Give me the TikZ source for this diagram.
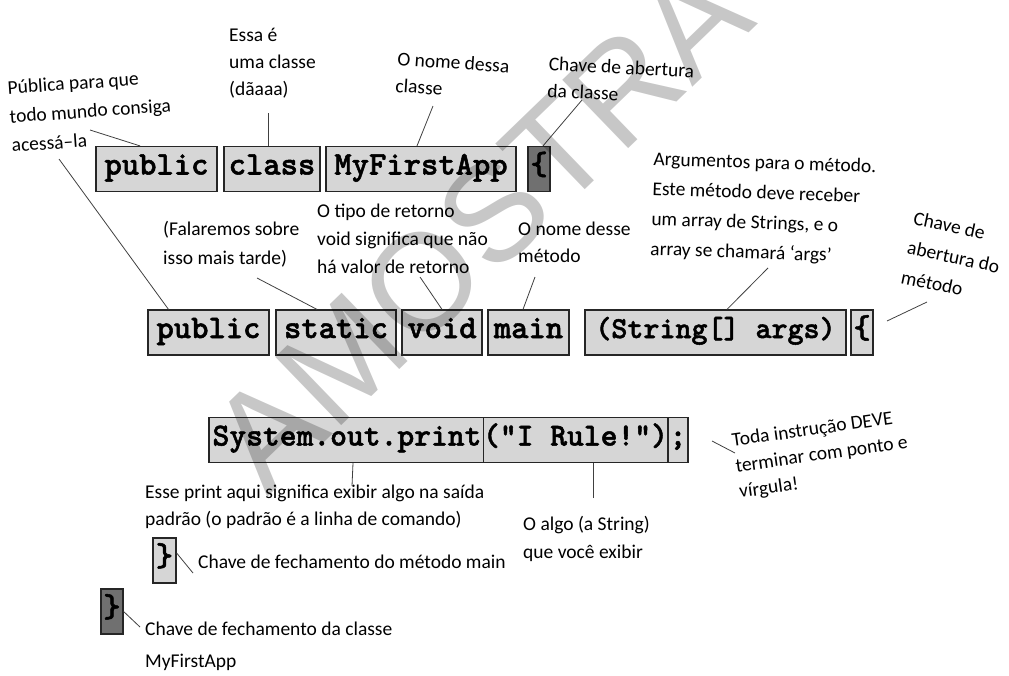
\documentclass[tikz,border=0pt]{standalone}
\usepackage{fontspec}
\setmainfont{Carlito}
\newfontfamily\wmfam{Liberation Sans}
\newfontfamily\codefam{lmmonolt10-bold.otf}[FakeBold=1.6]
\definecolor{boxgray}{RGB}{214,214,214}
\definecolor{darkbox}{RGB}{112,112,112}
\begin{document}
\begin{tikzpicture}[x=1pt,y=-1pt,
  codebox/.style={draw=black!85, line width=1.2pt, fill=boxgray, inner sep=0pt,
    minimum height=45pt, text height=17pt, text depth=6pt,
    font=\fontsize{33}{33}\selectfont\codefam},
  darkcode/.style={codebox, fill=darkbox},
  note/.style={font=\fontsize{19.5}{29}\selectfont, align=left, inner sep=0pt, anchor=base west},
  lead/.style={draw=black!75, line width=0.8pt}]
\useasboundingbox (0,0) rectangle (1009,675);

% row 1
\node[codebox, minimum width=121pt] (pub1) at (156.5,169) {public};
\node[codebox, minimum width=96pt] (cls) at (272,169) {class};
\node[codebox, minimum width=190pt] (app) at (421,169) {MyFirstApp};
\node[darkcode, minimum width=22pt] (ob1) at (539,169) {\{};

% row 2
\node[codebox, minimum width=121pt] (pub2) at (208.5,332.5) {public};
\node[codebox, minimum width=120pt] (stat) at (336,332.5) {static};
\node[codebox, minimum width=80pt] (void) at (442,332.5) {void};
\node[codebox, minimum width=81pt] (main) at (528.5,332.5) {main};
\node[codebox, minimum width=261pt, font=\fontsize{30.5}{30.5}\selectfont\codefam] (args) at (715.5,332.5) {(String[] args)};
\node[codebox, minimum width=22pt] (ob2) at (862,332.5) {\{};

% row 3
\node[codebox, minimum width=276pt, font=\fontsize{32}{32}\selectfont\codefam] (sys) at (347,440) {System.out.print};
\node[codebox, minimum width=175pt, font=\fontsize{32}{32}\selectfont\codefam] (rule) at (575.5,440) {("I Rule!")};
\node[codebox, minimum width=20pt, font=\fontsize{32}{32}\selectfont\codefam] (semi) at (678,440) {;};

% closing braces
\node[codebox, minimum width=23pt] (cb1) at (164.5,560.5) {\}};
\node[darkcode, minimum width=22pt] (cb2) at (112,611.5) {\}};

% annotations (anchored at the baseline of their last line)
\node[note, rotate=4] (tA) at (12,152) {Pública para que\\todo mundo consiga\\acessá–la};
\node[note, font=\fontsize{19.5}{27}\selectfont] (tB) at (229,95) {Essa é\\uma classe\\(dãaaa)};
\node[note, rotate=-4, font=\fontsize{19.5}{27}\selectfont] (tC) at (395,92) {O nome dessa\\classe};
\node[note, rotate=-3, font=\fontsize{19.5}{27}\selectfont] (tD) at (547,97) {Chave de abertura\\da classe};
\node[note] (tE) at (163,264) {(Falaremos sobre\\isso mais tarde)};
\node[note, font=\fontsize{19.5}{28}\selectfont] (tF) at (317,273) {O tipo de retorno\\void significa que não\\há valor de retorno};
\node[note, font=\fontsize{19.5}{27}\selectfont] (tG) at (518,262) {O nome desse\\método};
\node[note, rotate=-2, font=\fontsize{19.5}{30}\selectfont] (tH) at (650,255) {Argumentos para o método.\\Este método deve receber\\um array de Strings, e o\\array se chamará ‘args’};
\node[note, rotate=-12, font=\fontsize{19.5}{30}\selectfont] (tI) at (900,283) {Chave de\\abertura do\\método};
\node[note, rotate=8, font=\fontsize{19.5}{26}\selectfont] (tJ) at (740,498) {Toda instrução DEVE\\terminar com ponto e\\vírgula!};
\node[note, font=\fontsize{19.5}{27}\selectfont] (tK) at (145,525) {Esse print aqui significa exibir algo na saída\\padrão (o padrão é a linha de comando)};
\node[note, font=\fontsize{19.5}{28}\selectfont] (tL) at (523,558) {O algo (a String)\\que você exibir};
\node[note] (tM) at (198,568) {Chave de fechamento do método main};
\node[note, font=\fontsize{19.5}{32}\selectfont] (tN) at (145,667) {Chave de fechamento da classe\\MyFirstApp};

% free ends of leader lines
\coordinate (eA1) at (90,130);
\coordinate (eA2) at (59,159);
\coordinate (eB) at (268,113);
\coordinate (eC) at (433,106);
\coordinate (eD) at (582,100);
\coordinate (eE) at (257,278);
\coordinate (eF) at (420,277);
\coordinate (eG) at (535,277);
\coordinate (eH) at (768,268);
\coordinate (eI1) at (927,302);
\coordinate (eI2) at (887,321);
\coordinate (eK) at (352,486);
\coordinate (eL) at (593,498);
\coordinate (eJ1) at (735,453);
\coordinate (eJ2) at (712,441);
\coordinate (eM) at (193,573);
\coordinate (eN) at (140,627);

\draw[lead] (eA1) -- ([xshift=-16.5pt]pub1.north);
\draw[lead] (eA2) -- ([xshift=-40pt]pub2.north);
\draw[lead] (eB) -- ([xshift=-4pt]cls.north);
\draw[lead] (eC) -- ([xshift=-4pt]app.north);
\draw[lead] (eD) -- ([xshift=4pt]ob1.north);
\draw[lead] (eE) -- ([xshift=-19pt]stat.north);
\draw[lead] (eF) -- (void.north);
\draw[lead] (eG) -- ([xshift=-5.5pt]main.north);
\draw[lead] (eH) -- ([xshift=11.5pt]args.north);
\draw[lead] (eI1) -- (eI2);
\draw[lead] (eK) -- ([xshift=6pt]sys.south);
\draw[lead] (eL) -- ([xshift=17.5pt]rule.south);
\draw[lead] (eJ1) -- (eJ2);
\draw[lead] ([yshift=7.5pt]cb1.east) -- (eM);
\draw[lead] (cb2.east) -- (eN);

% watermark
\node[font=\fontsize{138}{138}\selectfont\wmfam, text=black, text opacity=0.22, rotate=44, inner sep=0pt] (wm) at (480,226) {AMOSTRA};
\end{tikzpicture}
\end{document}
